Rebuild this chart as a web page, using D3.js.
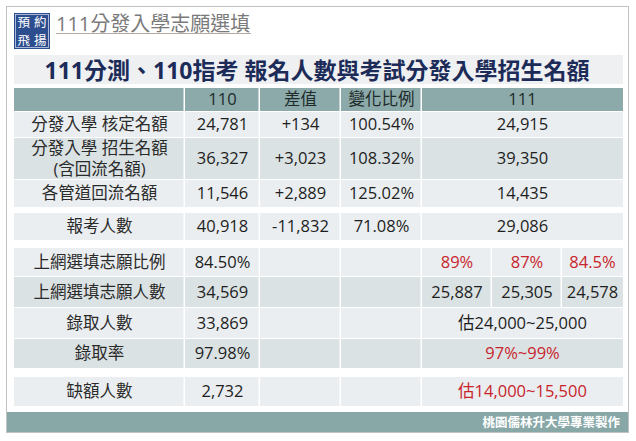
<!DOCTYPE html>
<html>
<head>
<meta charset="utf-8">
<script src="https://cdn.jsdelivr.net/npm/d3@7"></script>
<style>
  body { margin: 0; background: #fff; }
  text { font-family: "Open Sans", "Noto Sans CJK TC", sans-serif; }
</style>
</head>
<body>
<div id="chart"></div>
<script>
// Table content
const headers = ["", "110", "差值", "變化比例", "111"]
const rowLabels = [
  ["分發入學 核定名額"],
  ["分發入學 招生名額", "(含回流名額)"],
  ["各管道回流名額"],
  ["報考人數"],
  ["上網選填志願比例"],
  ["上網選填志願人數"],
  ["錄取人數"],
  ["錄取率"],
  ["缺額人數"]
]
const values110 = ["24,781", "36,327", "11,546", "40,918", "84.50%", "34,569", "33,869", "97.98%", "2,732"]
const diffs = ["+134", "+3,023", "+2,889", "-11,832", "", "", "", "", ""]
const ratios = ["100.54%", "108.32%", "125.02%", "71.08%", "", "", "", "", ""]
const values111 = [
  ["24,915"], ["39,350"], ["14,435"], ["29,086"],
  ["89%", "87%", "84.5%"],
  ["25,887", "25,305", "24,578"],
  ["估24,000~25,000"], ["97%~99%"], ["估14,000~15,500"]
]
const red111 = [false, false, false, false, true, false, false, true, true]
const logoLines = ["預約", "飛揚"]

// Layout
const W = 636, H = 441
const COLS = [14, 185, 260, 341, 422, 623]     // column edges
const SUB111 = [422, 492, 562, 623]           // 111 sub columns
const HEADER = { TOP: 88, BOTTOM: 111 }
const ROW_TOP = [112, 138, 180, 213, 248, 277, 308, 339, 377]
const ROW_BOTTOM = [137, 179, 207, 240, 276, 307, 338, 368, 406]
const SHADE = [0, 1, 0, 0, 0, 1, 0, 1, 0]
const FILL = ["#eaeef0", "#dbe2e3"]
const TEAL = "#8caaaa"
const RED = "#c8242c"
const FS = 16.5

const svg = d3.select("#chart").append("svg")
  .attr("width", W)
  .attr("height", H)

// frame
svg.append("rect")
  .attr("x", 6.5).attr("y", 6.5)
  .attr("width", 622).attr("height", 426)
  .attr("fill", "#fff")
  .attr("stroke", "#c2c2c2")

// logo
const logo = svg.append("g").attr("transform", "translate(14,13)")
logo.append("rect").attr("width", 36).attr("height", 36).attr("fill", "#2c4d8e")
logo.append("rect").attr("x", 1.5).attr("y", 1.5).attr("width", 33).attr("height", 33)
  .attr("fill", "none").attr("stroke", "#c9d3e6").attr("stroke-width", 0.8)
logo.selectAll("text")
  .data(logoLines)
  .enter().append("text")
  .attr("x", 3.5)
  .attr("y", (d, i) => 13.5 + i * 18.2)
  .attr("font-family", "Noto Sans CJK TC")
  .attr("font-size", "12.5px")
  .attr("letter-spacing", "4px")
  .attr("fill", "#fff")
  .text(d => d)

// subtitle
svg.append("text")
  .attr("x", 56).attr("y", 31)
  .attr("font-size", "20px")
  .attr("fill", "#7a7a7a")
  .text("111分發入學志願選填")
svg.append("line")
  .attr("x1", 56).attr("x2", 251)
  .attr("y1", 33.5).attr("y2", 33.5)
  .attr("stroke", "#b4a9a3")
  .attr("stroke-width", 1)

// title band
svg.append("rect")
  .attr("x", 14).attr("y", 55)
  .attr("width", 609).attr("height", 29)
  .attr("fill", "#eef0f2")
svg.append("text")
  .attr("x", 317).attr("y", 79)
  .attr("text-anchor", "middle")
  .attr("font-size", "23px")
  .attr("font-weight", "bold")
  .attr("fill", "#1c2b58")
  .text("111分測、110指考 報名人數與考試分發入學招生名額")

// header row
const header = svg.append("g")
header.selectAll("rect")
  .data(headers)
  .enter().append("rect")
  .attr("x", (d, i) => COLS[i])
  .attr("y", HEADER.TOP)
  .attr("width", (d, i) => COLS[i + 1] - COLS[i] - (i < headers.length - 1 ? 1.5 : 0))
  .attr("height", HEADER.BOTTOM - HEADER.TOP)
  .attr("fill", TEAL)
header.selectAll("text")
  .data(headers)
  .enter().append("text")
  .attr("x", (d, i) => (COLS[i] + COLS[i + 1]) / 2)
  .attr("y", (HEADER.TOP + HEADER.BOTTOM) / 2)
  .attr("dy", "0.36em")
  .attr("text-anchor", "middle")
  .attr("font-size", FS + "px")
  .attr("fill", "#1e2a2a")
  .text(d => d)

// body rows
const rows = rowLabels.map((lab, i) => ({
  i: i,
  label: lab,
  cells: [values110[i], diffs[i], ratios[i]],
  v111: values111[i],
  red: red111[i],
  top: ROW_TOP[i],
  bottom: ROW_BOTTOM[i]
}))

const rowG = svg.selectAll("g.row")
  .data(rows)
  .enter().append("g")
  .attr("class", "row")

rowG.each(function (r) {
  const g = d3.select(this)
  const fill = FILL[SHADE[r.i]]
  const h = r.bottom - r.top
  const mid = (r.top + r.bottom) / 2
  // label + 110 + diff + ratio cells
  for (let c = 0; c < 4; c++) {
    g.append("rect")
      .attr("x", COLS[c]).attr("y", r.top)
      .attr("width", COLS[c + 1] - COLS[c] - 1.5)
      .attr("height", h)
      .attr("fill", fill)
  }
  // 111 cells
  const edges = r.v111.length === 3 ? SUB111 : [SUB111[0], SUB111[3]]
  r.v111.forEach((v, k) => {
    const last = k === r.v111.length - 1
    g.append("rect")
      .attr("x", edges[k]).attr("y", r.top)
      .attr("width", edges[k + 1] - edges[k] - (last ? 0 : 1.5))
      .attr("height", h)
      .attr("fill", fill)
    g.append("text")
      .attr("x", (edges[k] + edges[k + 1]) / 2)
      .attr("y", mid)
      .attr("dy", "0.36em")
      .attr("text-anchor", "middle")
      .attr("font-size", FS + "px")
      .attr("fill", r.red ? RED : "#1e1e1e")
      .text(v)
  })
  // label text
  const lineH = 21.5
  r.label.forEach((t, k) => {
    g.append("text")
      .attr("x", (COLS[0] + COLS[1]) / 2)
      .attr("y", mid + (k - (r.label.length - 1) / 2) * lineH)
      .attr("dy", "0.36em")
      .attr("text-anchor", "middle")
      .attr("font-size", FS + "px")
      .attr("fill", "#2a2a2a")
      .text(t)
  })
  // numeric cells
  r.cells.forEach((v, k) => {
    g.append("text")
      .attr("x", (COLS[k + 1] + COLS[k + 2]) / 2)
      .attr("y", mid)
      .attr("dy", "0.36em")
      .attr("text-anchor", "middle")
      .attr("font-size", FS + "px")
      .attr("fill", "#1e1e1e")
      .text(v)
  })
})

// bottom bar
svg.append("rect")
  .attr("x", 7).attr("y", 412)
  .attr("width", 621).attr("height", 20)
  .attr("fill", "#88a8a8")
svg.append("text")
  .attr("x", 620).attr("y", 427)
  .attr("text-anchor", "end")
  .attr("font-size", "12.5px")
  .attr("font-weight", "bold")
  .attr("fill", "#fff")
  .text("桃園儒林升大學專業製作")
</script>
</body>
</html>
